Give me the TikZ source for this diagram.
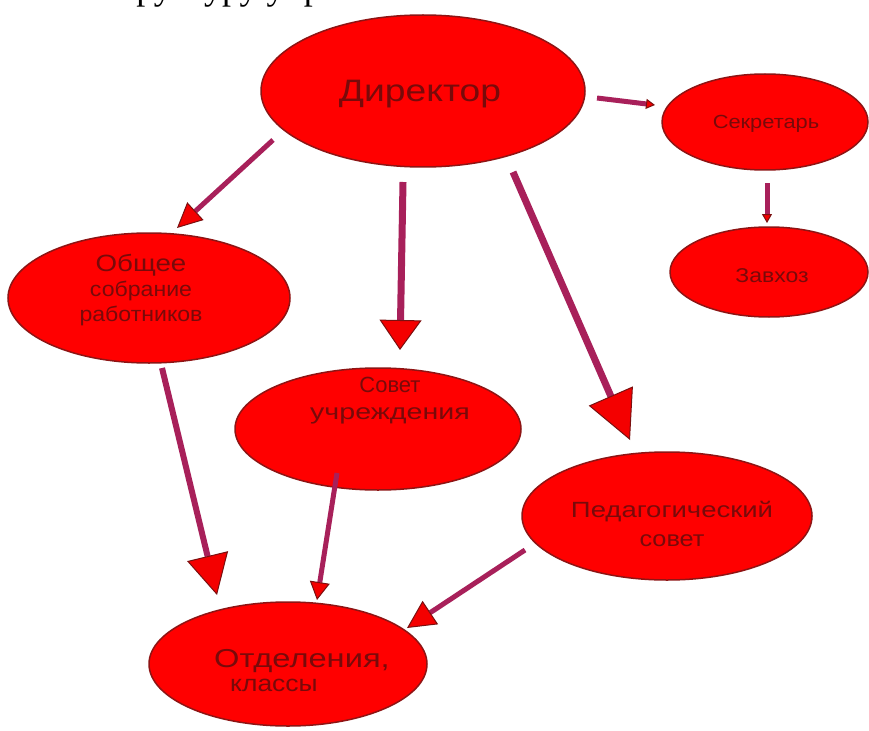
\documentclass[tikz,border=0pt]{standalone}
\usepackage{graphicx}
\usepackage{fontspec}
\setmainfont{Liberation Sans}
\newfontfamily\serifru{Liberation Serif}
\usetikzlibrary{shapes.geometric,arrows.meta}
\definecolor{elfill}{HTML}{FF0000}
\definecolor{elborder}{HTML}{8E1414}
\definecolor{txtc}{HTML}{780A0A}
\definecolor{arrc}{HTML}{A8205A}
\definecolor{headfill}{HTML}{F40000}
\definecolor{headdraw}{HTML}{7A1010}
\newcommand{\sx}[2]{\scalebox{#1}[1]{#2}}
\begin{document}
\begin{tikzpicture}[x=1pt,y=-1pt,
  ell/.style={ellipse, draw=elborder, fill=elfill, line width=1.5pt, inner sep=0pt},
  lab/.style={text=txtc, inner sep=0pt, align=center},
  conn/.style={draw=arrc, line width=#1},
  hd/.style n args={2}{-{Triangle[length=#1pt,width=#2pt,fill=headfill,color=headdraw,line width=1pt]}}]
\useasboundingbox (0,0) rectangle (869,730);
\fill[white] (0,0) rectangle (869,730);

% cropped heading (only descenders visible)
\node[anchor=base west, inner sep=0pt, font=\serifru\fontsize{36}{36}\selectfont] (hdr) at (104,-0.5) {структуру управления};

% ellipses
\node[ell, minimum width=324pt, minimum height=152pt] (dir) at (423,91) {};
\node[ell, minimum width=206pt, minimum height=96pt] (sec) at (765,122) {};
\node[ell, minimum width=198pt, minimum height=90pt] (zav) at (769,272) {};
\node[ell, minimum width=282pt, minimum height=130pt] (gen) at (149,298) {};
\node[ell, minimum width=286pt, minimum height=122pt] (sov) at (378,429) {};
\node[ell, minimum width=290pt, minimum height=128pt] (ped) at (667,516) {};
\node[ell, minimum width=278pt, minimum height=124pt] (otd) at (288,664) {};

% labels
\node[lab, font=\fontsize{31}{31}\selectfont] (t-dir) at (420,94) {\sx{1.2}{Директор}};
\node[lab, font=\fontsize{19}{19}\selectfont] (t-sec) at (766,124) {\sx{1.15}{Секретарь}};
\node[lab, font=\fontsize{20}{20}\selectfont] (t-zav) at (772,276) {\sx{1.15}{Завхоз}};
\node[lab, font=\fontsize{21}{25}\selectfont] (t-gen) at (141,290)
  {\scalebox{1.32}[1.12]{Общее}\\\sx{1.1}{собрание}\\\sx{1.1}{работников}};
\node[lab, font=\fontsize{22}{27}\selectfont] (t-sov) at (390,401)
  {\sx{1.0}{Совет}\\\sx{1.3}{учреждения}};
\node[lab, font=\fontsize{22}{29}\selectfont] (t-ped) at (672,524)
  {\sx{1.25}{Педагогический}\\\sx{1.15}{совет}};
\node[lab, align=left, anchor=west, font=\fontsize{23}{24}\selectfont] (t-otd) at (214,671)
  {\scalebox{1.36}[1.08]{\fontsize{24}{24}\selectfont Отделения,}\\\hspace*{16pt}\sx{1.15}{классы}};

% connector ends
\coordinate (c1s) at (273,140); \coordinate (c1e) at (177,228);
\coordinate (c2s) at (403,182); \coordinate (c2e) at (400,350);
\coordinate (c3s) at (513,172); \coordinate (c3e) at (630,440);
\coordinate (c4s) at (597,98);  \coordinate (c4e) at (655,105);
\coordinate (c5s) at (767,183); \coordinate (c5e) at (767,223);
\coordinate (c6s) at (162,368); \coordinate (c6e) at (217,595);
\coordinate (c7s) at (337,473); \coordinate (c7e) at (317,600);
\coordinate (c8s) at (525,550); \coordinate (c8e) at (407,628);

% connectors
\draw[conn=5pt, hd={25}{24}] (c1s) -- (c1e);
\draw[conn=7pt, hd={30}{42}] (c2s) -- (c2e);
\draw[conn=7pt, hd={48}{48}] (c3s) -- (c3e);
\draw[conn=5pt, hd={9}{10}] (c4s) -- (c4e);
\draw[conn=5pt, hd={9}{10}] (c5s) -- (c5e);
\draw[conn=6pt, hd={40}{42}] (c6s) -- (c6e);
\draw[conn=5pt, hd={18}{20}] (c7s) -- (c7e);
\draw[conn=5pt, hd={28}{28}] (c8s) -- (c8e);
\end{tikzpicture}
\end{document}
